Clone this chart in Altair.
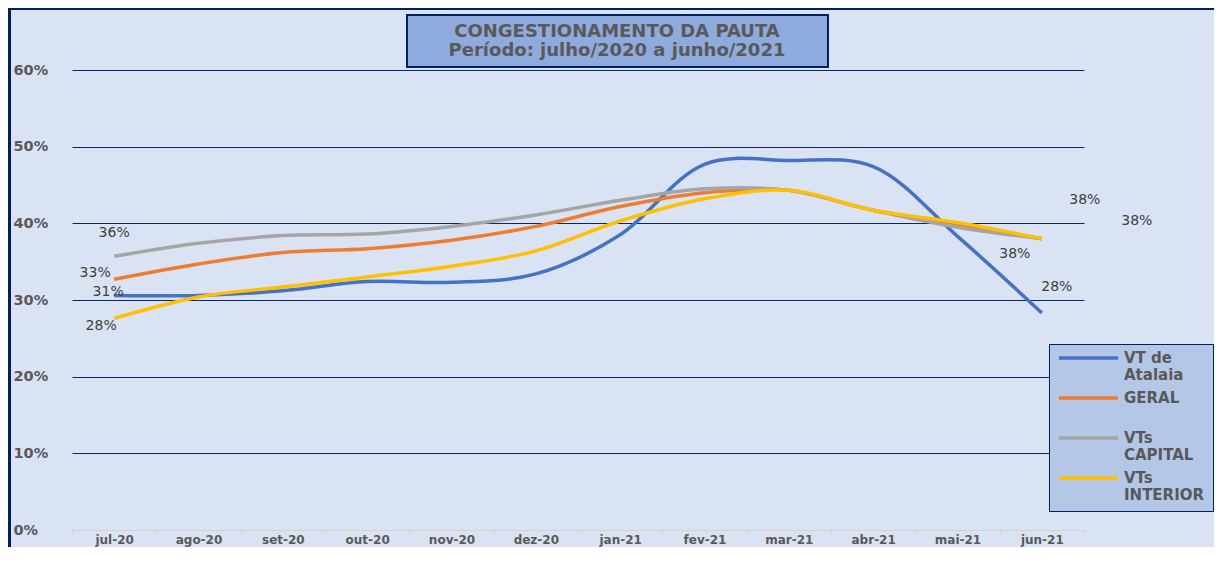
import altair as alt
import pandas as pd

months = ["jul-20", "ago-20", "set-20", "out-20", "nov-20", "dez-20",
          "jan-21", "fev-21", "mar-21", "abr-21", "mai-21", "jun-21"]
series = ["VT de Atalaia", "GERAL", "VTs CAPITAL", "VTs INTERIOR"]
atalaia = [0.306, 0.306, 0.312, 0.324, 0.323, 0.334, 0.385, 0.477, 0.482, 0.474, 0.383, 0.283]
geral = [0.327, 0.347, 0.362, 0.367, 0.378, 0.396, 0.422, 0.440, 0.443, 0.417, 0.399, 0.380]
capital = [0.357, 0.374, 0.384, 0.386, 0.396, 0.411, 0.430, 0.445, 0.443, 0.417, 0.395, 0.380]
interior = [0.276, 0.304, 0.317, 0.330, 0.344, 0.364, 0.403, 0.432, 0.443, 0.417, 0.401, 0.380]
y_ticks = [0, 0.1, 0.2, 0.3, 0.4, 0.5, 0.6]
title_lines = ["CONGESTIONAMENTO DA PAUTA", "Período: julho/2020 a junho/2021"]

colors = ["#4472c4", "#ed7d31", "#a5a5a5", "#ffc000"]
NAVY = "#0b2466"
FONT = "DejaVu Sans"

rows = []
for s, vals in zip(series, [atalaia, geral, capital, interior]):
    for m, v in zip(months, vals):
        rows.append({"mes": m, "serie": s, "valor": v})
df = pd.DataFrame(rows)

x_enc = alt.X(
    "mes:N", sort=months, bandPosition=0.5,
    scale=alt.Scale(type="band", domain=months, paddingInner=0, paddingOuter=0),
    axis=alt.Axis(title=None, labelAngle=0, grid=False, tickBand="extent",
                  domainColor="#d9d2c5", tickColor="#d9d2c5", tickSize=4,
                  labelPadding=0, labelFont=FONT, labelFontWeight="bold",
                  labelFontSize=12, labelColor="#595959"),
)
y_enc = alt.Y(
    "valor:Q", scale=alt.Scale(domain=[0, 0.6], nice=False, zero=True),
    axis=alt.Axis(title=None, values=y_ticks, format=".0%", grid=True,
                  gridColor={"condition": {"test": "datum.value === 0", "value": "#d9d2c5"},
                             "value": NAVY},
                  gridWidth=1, domain=False, ticks=False, labelAlign="left",
                  labelPadding=59, labelFont=FONT, labelFontWeight="bold",
                  labelFontSize=14.5, labelColor="#595959"),
)

legend_expr = ("datum.label == 'VT de Atalaia' ? ['VT de', 'Atalaia'] : "
               "datum.label == 'GERAL' ? ['GERAL', ' '] : "
               "datum.label == 'VTs CAPITAL' ? ['VTs', 'CAPITAL'] : ['VTs', 'INTERIOR']")

lines = alt.Chart(df).mark_line(interpolate="catmull-rom", strokeWidth=3.5).encode(
    x=x_enc, y=y_enc,
    color=alt.Color("serie:N", sort=series,
                    scale=alt.Scale(domain=series, range=colors),
                    legend=alt.Legend(title=None, orient="none", legendX=977, legendY=274,
                                      symbolType="stroke", symbolSize=3481,
                                      symbolStrokeWidth=3.5, labelFont=FONT,
                                      labelFontWeight="bold", labelFontSize=15,
                                      labelColor="#595959", labelBaseline="middle",
                                      labelExpr=legend_expr, fillColor="#b4c7e7",
                                      strokeColor="#002060", padding=8, rowPadding=8,
                                      clipHeight=12, labelLimit=200)),
)

# data labels on first and last points (offsets are style)
label_style = {
    ("VTs CAPITAL", 0): (0, -23), ("GERAL", 0): (-19, -6),
    ("VT de Atalaia", 0): (-6, -3), ("VTs INTERIOR", 0): (-13, 8),
    ("VTs CAPITAL", 11): (-27, 15), ("GERAL", 11): (43, -39),
    ("VTs INTERIOR", 11): (95, -18), ("VT de Atalaia", 11): (15, -26),
}
label_layers = []
for (s, idx), (dx, dy) in label_style.items():
    sub = df[(df["serie"] == s) & (df["mes"] == months[idx])]
    label_layers.append(
        alt.Chart(sub).mark_text(dx=dx, dy=dy, font=FONT, fontSize=14, color="#404040",
                                 align="center", baseline="middle").encode(
            x=alt.X("mes:N", sort=months, bandPosition=0.5),
            y="valor:Q",
            text=alt.Text("valor:Q", format=".0%"),
        )
    )

one = pd.DataFrame({"k": [0]})
title_box = alt.Chart(one).mark_rect(fill="#8faadc", stroke="#002060", strokeWidth=2).encode(
    x=alt.value(335), x2=alt.value(756), y=alt.value(-55), y2=alt.value(-3))
title_t1 = alt.Chart(pd.DataFrame({"t": [title_lines[0]]})).mark_text(
    font=FONT, fontSize=18, fontWeight="bold", color="#595959", align="center",
    baseline="middle").encode(x=alt.value(545), y=alt.value(-38), text="t:N")
title_t2 = alt.Chart(pd.DataFrame({"t": [title_lines[1]]})).mark_text(
    font=FONT, fontSize=18, fontWeight="bold", color="#595959", align="center",
    baseline="middle").encode(x=alt.value(545), y=alt.value(-19), text="t:N")
border_left = alt.Chart(one).mark_rule(color="#002060", strokeWidth=3).encode(
    x=alt.value(-62.5), y=alt.value(-62), y2=alt.value(480))
border_top = alt.Chart(one).mark_rule(color="#002060", strokeWidth=2).encode(
    x=alt.value(-64), x2=alt.value(1142), y=alt.value(-61))

chart = alt.layer(lines, *label_layers, title_box, title_t1, title_t2,
                  border_left, border_top).properties(
    width=1012, height=460,
    padding={"left": 64, "top": 62, "right": 130, "bottom": 17},
    autosize=alt.AutoSizeParams(type="none"),
    background="#dae3f3",
).configure_view(strokeWidth=0)

chart.save("out.html", embed_options={"renderer": "svg", "actions": False})
